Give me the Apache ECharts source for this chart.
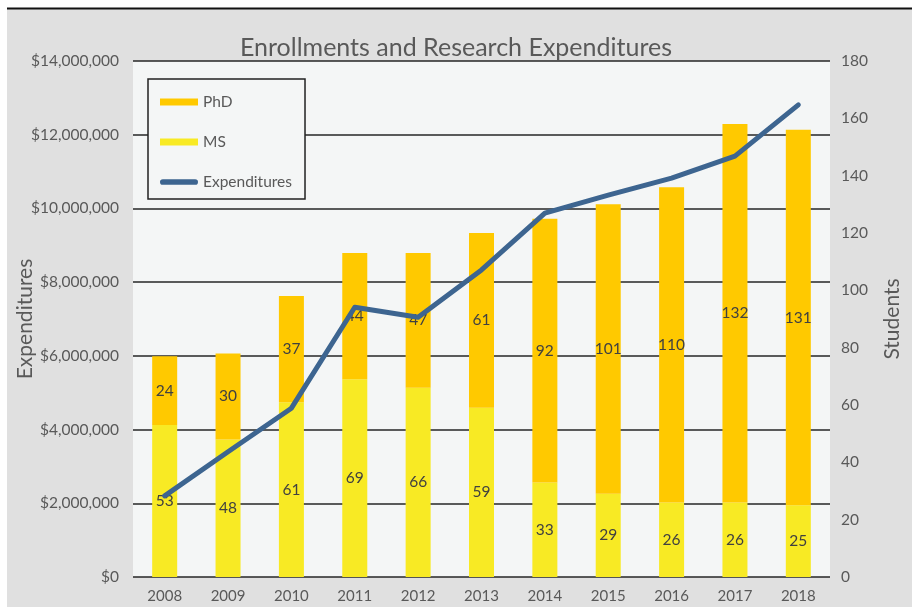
<!DOCTYPE html>
<html>
<head>
<meta charset="utf-8">
<script src="https://cdn.jsdelivr.net/npm/echarts@6/dist/echarts.min.js"></script>
<style>
html,body{margin:0;padding:0;background:#ffffff;}
#chart{width:912px;height:607px;}
</style>
</head>
<body>
<div id="chart"></div>
<script>
var years = ['2008','2009','2010','2011','2012','2013','2014','2015','2016','2017','2018'];
var msStudents = [53,48,61,69,66,59,33,29,26,26,25];
var phdStudents = [24,30,37,44,47,61,92,101,110,132,131];
var expenditures = [2200000,3400000,4580000,7320000,7050000,8330000,9870000,10360000,10820000,11420000,12810000];

var FONT = 'Lato';
var TXT = '#595959';

function money(v){
  var s = String(Math.round(v));
  return '$' + s.replace(/\B(?=(\d{3})+(?!\d))/g, ',');
}

var chart = echarts.init(document.getElementById('chart'), null, {renderer:'canvas'});
chart.setOption({
  backgroundColor: '#ffffff',
  textStyle: {fontFamily: FONT},
  graphic: [
    {type:'rect', z:-10, silent:true, shape:{x:7, y:8, width:905, height:599}, style:{fill:'#E0E0E0'}},
    {type:'line', z:-9, silent:true, shape:{x1:7, y1:8.5, x2:912, y2:8.5}, style:{stroke:'#111111', lineWidth:2}}
  ],
  title: {
    text: 'Enrollments and Research Expenditures',
    left: 'center',
    top: 30,
    textStyle: {fontFamily: FONT, fontSize: 25, fontWeight: 'normal', color: TXT}
  },
  legend: {
    orient: 'vertical',
    left: 148,
    top: 79,
    padding: [15, 13, 9, 12],
    itemGap: 24,
    itemWidth: 38,
    itemHeight: 7,
    backgroundColor: '#F4F6F6',
    borderColor: '#222222',
    borderWidth: 1.5,
    textStyle: {fontFamily: FONT, fontSize: 15.5, color: TXT, padding:[4,0,0,0]},
    data: [
      {name:'PhD', icon:'rect'},
      {name:'MS', icon:'rect'},
      {name:'Expenditures', icon:'path://M3,0 H37 A3,3 0 0 1 37,6 H3 A3,3 0 0 1 3,0 Z'}
    ]
  },
  grid: {
    left: 133, right: 82, top: 61, bottom: 30,
    outerBoundsMode: 'none',
    containLabel: false,
    show: true, backgroundColor: '#F4F6F6', borderWidth: 0
  },
  xAxis: {
    type: 'category',
    data: years,
    axisLine: {show:false},
    axisTick: {show:false},
    axisLabel: {fontFamily: FONT, fontSize: 15, color: TXT, margin: 12}
  },
  yAxis: [
    {
      type: 'value',
      min: 0, max: 14000000, interval: 2000000,
      name: 'Expenditures',
      nameLocation: 'middle',
      nameGap: 97,
      nameMoveOverlap: false,
      nameTextStyle: {fontFamily: FONT, fontSize: 21, color: TXT},
      axisLine: {show:false},
      axisTick: {show:false},
      axisLabel: {fontFamily: FONT, fontSize: 15.5, color: TXT, margin: 14, formatter: money},
      splitLine: {show:true, lineStyle:{color:'#262626', width:1.5}}
    },
    {
      type: 'value',
      min: 0, max: 180, interval: 20,
      name: 'Students',
      nameLocation: 'middle',
      nameGap: 52,
      nameMoveOverlap: false,
      nameTextStyle: {fontFamily: FONT, fontSize: 21, color: TXT},
      axisLine: {show:false},
      axisTick: {show:false},
      axisLabel: {fontFamily: FONT, fontSize: 15.5, color: TXT, margin: 11},
      splitLine: {show:false}
    }
  ],
  series: [
    {
      name: 'MS',
      type: 'bar',
      stack: 'students',
      yAxisIndex: 1,
      barWidth: 25,
      data: msStudents,
      itemStyle: {color: '#F8EA24'},
      label: {show:true, position:'inside', fontFamily: FONT, fontSize: 15.5, color:'#404040'},
      z: 2
    },
    {
      name: 'PhD',
      type: 'bar',
      stack: 'students',
      yAxisIndex: 1,
      barWidth: 25,
      data: phdStudents,
      itemStyle: {color: '#FFC900'},
      label: {show:true, position:'inside', fontFamily: FONT, fontSize: 15.5, color:'#404040'},
      z: 2
    },
    {
      name: 'Expenditures',
      type: 'line',
      yAxisIndex: 0,
      data: expenditures,
      symbol: 'none',
      itemStyle: {color: '#3D6590'},
      lineStyle: {color: '#3D6590', width: 5, cap: 'round', join: 'round'},
      z: 5
    }
  ]
});
</script>
</body>
</html>
